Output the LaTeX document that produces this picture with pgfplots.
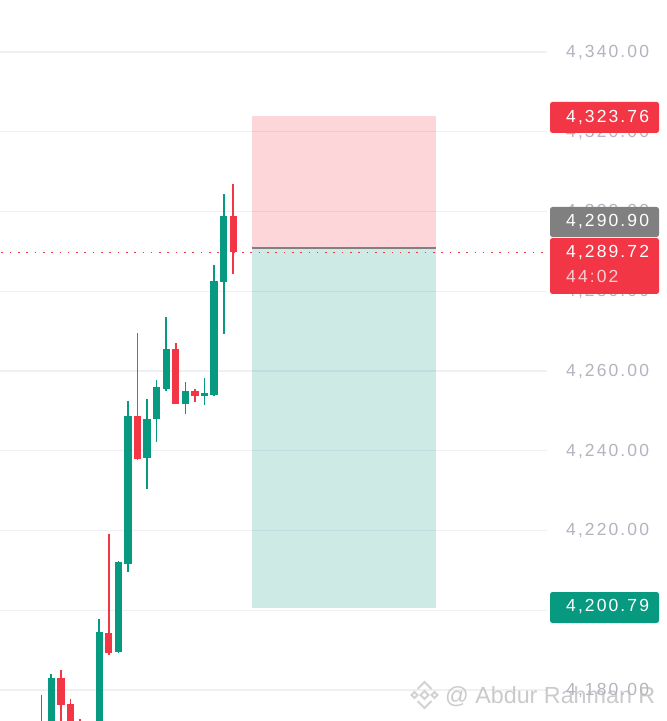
\documentclass[border=0pt]{standalone}
\usepackage{pgfplots}
\pgfplotsset{compat=1.18}
\usepackage{pgfplotstable}
\usepackage{fontspec}
\setmainfont{Liberation Sans}
\newfontfamily\lbl[LetterSpace=12]{Liberation Sans}
\newcommand\lblfont{\lbl\fontsize{17.5}{20}\selectfont}
\definecolor{tvgreen}{HTML}{089981}
\definecolor{tvred}{HTML}{F23645}
\definecolor{gridc}{RGB}{238,240,244}
\definecolor{lblgray}{RGB}{178,181,190}
\definecolor{boxgray}{RGB}{128,128,128}

% candles: index, open, high, low, close
\pgfplotstableread{
x o h l c
0 4163.0 4178.7 4160.0 4169.0
1 4165.0 4183.9 4160.0 4183.0
5 4160.0 4170.0 4158.0 4168.0
6 4168.0 4197.9 4166.0 4194.6
8 4189.5 4212.4 4189.3 4212.0
9 4211.6 4252.6 4209.6 4248.8
11 4238.1 4253.0 4230.5 4248.0
12 4247.9 4257.8 4242.1 4255.9
13 4255.4 4273.6 4255.1 4265.6
15 4251.7 4257.3 4249.1 4255.0
17 4253.7 4258.3 4251.6 4254.5
18 4254.0 4286.5 4253.8 4282.6
19 4282.4 4304.3 4269.4 4298.8
}\greentbl
\pgfplotstableread{
x o h l c
2 4183.0 4184.9 4168.0 4176.3
3 4176.4 4177.7 4162.0 4166.0
4 4171.8 4172.7 4162.0 4166.0
7 4194.4 4219.2 4188.8 4189.3
10 4248.8 4269.5 4237.6 4237.9
14 4265.6 4267.0 4251.7 4251.7
16 4255.1 4255.4 4252.2 4253.8
20 4298.8 4306.9 4284.3 4289.72
}\redtbl

\pgfplotsset{
  candle/.style n args={2}{draw=none, mark=none, forget plot,
    error bars/.cd, y dir=minus, y explicit, error mark=none,
    error bar style={line width=#2, draw=#1, solid}},
}

\begin{document}
\begin{tikzpicture}
\useasboundingbox (0pt,0pt) rectangle (667pt,721pt);
\fill[white] (0pt,0pt) rectangle (667pt,721pt);
\begin{axis}[
  at={(0pt,0pt)}, anchor=south west,
  scale only axis, width=547pt, height=721pt,
  xmin=-4.353, xmax=52.75, ymin=4172.23, ymax=4353.04,
  axis line style={draw=none},
  major tick length=0pt,
  xtick=\empty,
  ytick={4180,4200,4220,4240,4260,4280,4300,4320,4340},
  yticklabels={{4,180.00},{4,200.00},{4,220.00},{4,240.00},{4,260.00},{4,280.00},{4,300.00},{4,320.00},{4,340.00}},
  yticklabel pos=right,
  yticklabel style={font=\lblfont, text=lblgray, anchor=base west, inner sep=0pt, xshift=19pt, yshift=-5.4pt},
  ymajorgrids,
  major grid style={gridc, line width=1.3pt},
]
% position box
\fill[tvred, fill opacity=0.2] (axis cs:21.95,4290.90) rectangle (axis cs:41.17,4323.76);
\fill[tvgreen, fill opacity=0.2] (axis cs:21.95,4200.79) rectangle (axis cs:41.17,4290.90);
\draw[tvred, opacity=0.2, line width=1pt] (axis cs:21.95,4323.76) -- (axis cs:41.17,4323.76);
\draw[tvgreen, opacity=0.2, line width=1pt] (axis cs:21.95,4200.79) -- (axis cs:41.17,4200.79);
\draw[boxgray, line width=1.6pt] (axis cs:21.95,4290.90) -- (axis cs:41.17,4290.90);
% current price line
\addplot[tvred, line width=1.5pt, dash pattern=on 1.6pt off 6.7pt, mark=none, forget plot]
  coordinates {(-4.2,4289.72) (52.3,4289.72)};
% wicks
\addplot[candle={tvgreen}{1.6pt}]
  table[x=x, y=h, y error minus expr={\thisrow{h}-\thisrow{l}}] {\greentbl};
\addplot[candle={tvred}{1.6pt}]
  table[x=x, y=h, y error minus expr={\thisrow{h}-\thisrow{l}}] {\redtbl};
% bodies
\addplot[candle={tvgreen}{7.3pt}]
  table[x=x, y=c, y error minus expr={\thisrow{c}-\thisrow{o}}] {\greentbl};
\addplot[candle={tvred}{7.3pt}]
  table[x=x, y=o, y error minus expr={\thisrow{o}-\thisrow{c}}] {\redtbl};
\coordinate (pSL) at (axis cs:52.75,4323.76);
\coordinate (pEN) at (axis cs:52.75,4290.90);
\coordinate (pCU) at (axis cs:52.75,4289.72);
\coordinate (pTP) at (axis cs:52.75,4200.79);
\end{axis}
% price labels
\fill[tvred, rounded corners=2.5pt] ([xshift=3pt,yshift=-16.2pt]pSL) rectangle ([xshift=112pt,yshift=14.8pt]pSL);
\node[anchor=base west, inner sep=0pt, text=white, font=\lblfont] at ([xshift=19pt,yshift=-5.95pt]pSL) {4,323.76};
\fill[boxgray, rounded corners=2.5pt] ([xshift=3pt,yshift=10.8pt]pEN) rectangle ([xshift=112pt,yshift=40.8pt]pEN);
\node[anchor=base west, inner sep=0pt, text=white, font=\lblfont] at ([xshift=19pt,yshift=21.6pt]pEN) {4,290.90};
\fill[tvred, rounded corners=2.5pt] ([xshift=3pt,yshift=-41.5pt]pCU) rectangle ([xshift=112pt,yshift=14.5pt]pCU);
\node[anchor=base west, inner sep=0pt, text=white, font=\lblfont] at ([xshift=19pt,yshift=-4.75pt]pCU) {4,289.72};
\node[anchor=base west, inner sep=0pt, text=white, text opacity=0.75, font=\lblfont] at ([xshift=19pt,yshift=-29.75pt]pCU) {44:02};
\fill[tvgreen, rounded corners=2.5pt] ([xshift=3pt,yshift=-15.9pt]pTP) rectangle ([xshift=112pt,yshift=15.1pt]pTP);
\node[anchor=base west, inner sep=0pt, text=white, font=\lblfont] at ([xshift=19pt,yshift=-4.65pt]pTP) {4,200.79};
% watermark
\begin{scope}[shift={(424.5pt,26pt)}, draw=gray!35, line width=2pt, line join=miter]
  \draw (0pt,-4pt) -- (4pt,0pt) -- (0pt,4pt) -- (-4pt,0pt) -- cycle;
  \draw (-10pt,-3pt) -- (-7pt,0pt) -- (-10pt,3pt) -- (-13pt,0pt) -- cycle;
  \draw (10pt,-3pt) -- (13pt,0pt) -- (10pt,3pt) -- (7pt,0pt) -- cycle;
  \draw (-7pt,6pt) -- (0pt,13pt) -- (7pt,6pt);
  \draw (-7pt,-6pt) -- (0pt,-13pt) -- (7pt,-6pt);
\end{scope}
\node[anchor=base west, inner sep=0pt, font=\fontsize{23.3}{26}\selectfont, text=gray!55, text opacity=0.75] at (445pt,17pt) {@ Abdur Rahman R};
\end{tikzpicture}
\end{document}
